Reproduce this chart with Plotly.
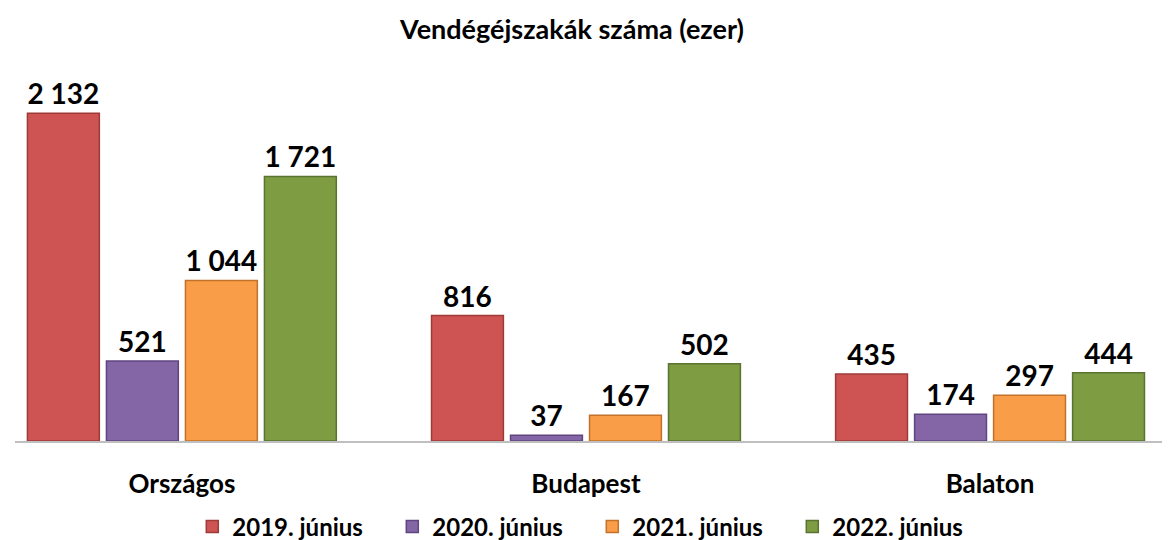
import plotly.graph_objects as go

categories = ["Országos", "Budapest", "Balaton"]
series_names = ["2019. június", "2020. június", "2021. június", "2022. június"]
values_2019 = [2132, 816, 435]
values_2020 = [521, 37, 174]
values_2021 = [1044, 167, 297]
values_2022 = [1721, 502, 444]

colors = ["#CD5452", "#8465A6", "#F99D48", "#7E9D43"]
edges = ["#9E3B39", "#5F4680", "#C2722A", "#5A7330"]

FONT = "Lato"


def fmt(v):
    return f"{v:,}".replace(",", " ")


fig = go.Figure()
for name, vals, col, edge in zip(series_names, [values_2019, values_2020, values_2021, values_2022], colors, edges):
    fig.add_trace(go.Bar(
        x=categories, y=vals, name=name,
        marker=dict(color=col, line=dict(color=edge, width=1.5)),
        text=[fmt(v) for v in vals], textposition="outside",
        textfont=dict(size=28, color="black", family=FONT, weight="bold"),
        cliponaxis=False,
    ))

fig.update_layout(
    width=1170, height=540,
    paper_bgcolor="white", plot_bgcolor="white",
    margin=dict(l=7, r=13, t=64, b=107, autoexpand=False),
    barmode="group", bargap=0.218, bargroupgap=0.09,
    font=dict(family=FONT, color="black"),
    title=dict(text="<b>Vendégéjszakák száma (ezer)</b>", x=0.482, xanchor="center",
               y=0.96, yanchor="middle", font=dict(size=27, family=FONT)),
    legend=dict(orientation="h", x=0.502, xanchor="center", y=-0.233, yanchor="middle",
                font=dict(size=24, family=FONT, weight="bold"),
                itemwidth=30, tracegroupgap=0,
                entrywidth=155, entrywidthmode="pixels"),
    xaxis=dict(range=[-0.413, 2.433], showline=True, linecolor="#BFBFBF", linewidth=1.5,
               ticks="outside", ticklen=19, tickcolor="rgba(0,0,0,0)", automargin=False,
               tickfont=dict(size=26, family=FONT, weight="bold"),
               showgrid=False),
    yaxis=dict(range=[0, 2400], visible=False, showgrid=False, automargin=False),
    uniformtext=dict(minsize=28, mode="show"),
)

fig.write_html("out.html")
